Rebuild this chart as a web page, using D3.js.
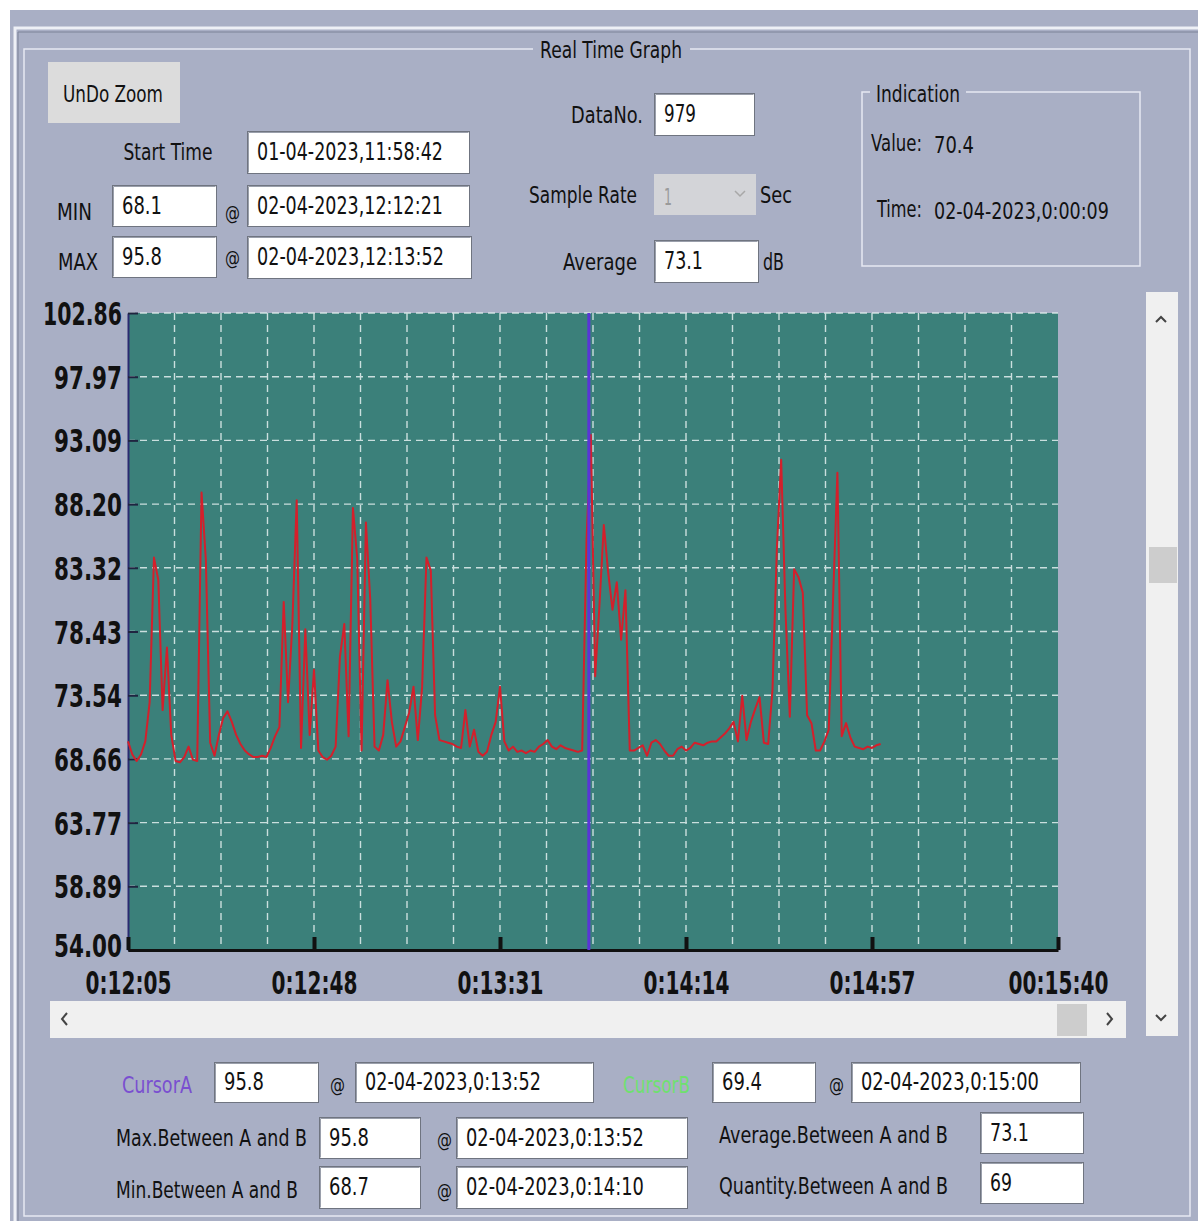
<!DOCTYPE html>
<html><head><meta charset="utf-8">
<script src="https://cdn.jsdelivr.net/npm/d3@7"></script>
<style>
html,body{margin:0;padding:0;background:#fff;}
svg{display:block;}
text{font-family:"DejaVu Sans","Liberation Sans",sans-serif;}
</style></head><body>
<svg id="c" width="1198" height="1221"></svg>
<script>
// ---------------- data ----------------
const startSeconds = 12*60 + 5;         // 0:12:05
const sampleRateSec = 1;
const values = [
 70.0,69.0,68.5,69.0,70.0,73.0,84.1,82.4,72.4,77.2,
 70.5,68.5,68.4,68.8,69.6,68.6,68.5,89.1,83.9,69.9,
 68.9,70.5,71.8,72.3,71.5,70.5,69.8,69.3,69.0,68.8,
 68.8,68.9,68.8,69.5,70.4,71.1,80.7,73.0,79.0,88.5,
 69.5,78.6,70.5,75.5,69.3,68.8,68.6,68.9,69.6,76.5,
 79.0,70.4,87.9,84.0,69.3,86.8,80.9,69.6,69.3,70.5,
 74.7,71.5,69.6,70.0,71.1,72.2,74.2,70.1,74.2,84.1,
 83.1,72.0,70.1,70.0,69.9,69.8,69.6,69.5,72.4,69.6,
 70.9,69.2,68.9,69.2,70.5,71.5,74.2,70.0,69.3,69.6,
 69.2,69.3,69.1,69.3,69.2,69.6,69.8,70.1,69.6,69.4,
 69.7,69.5,69.4,69.3,69.2,69.3,85.4,93.5,75.0,80.5,
 86.6,83.0,80.1,82.2,77.8,81.6,69.3,69.3,69.5,69.7,
 68.9,69.9,70.1,69.8,69.3,68.9,68.9,69.4,69.6,69.3,
 69.5,69.9,69.8,69.7,69.9,70.0,70.0,70.3,70.6,71.0,
 71.5,70.0,73.5,70.1,71.5,72.5,73.4,69.9,69.8,74.0,
 84.7,91.6,80.0,71.9,83.2,82.6,81.4,72.0,71.4,69.3,
 69.3,70.0,70.9,80.9,90.6,70.4,71.4,70.3,69.6,69.5,
 69.4,69.6,69.5,69.7,69.8
];
const yTickLabels = ["102.86","97.97","93.09","88.20","83.32","78.43","73.54","68.66","63.77","58.89","54.00"];
const xTickLabels = ["0:12:05","0:12:48","0:13:31","0:14:14","0:14:57","00:15:40"];
const xDomainSec = [0, 215];
const cursorA = {label:"CursorA", value:"95.8", time:"02-04-2023,0:13:52", offset:107};
const cursorB = {label:"CursorB", value:"69.4", time:"02-04-2023,0:15:00", offset:175};
const header = {start:"01-04-2023,11:58:42", min:"68.1", minTime:"02-04-2023,12:12:21",
  max:"95.8", maxTime:"02-04-2023,12:13:52", dataNo:"979", rate:"1", avg:"73.1",
  indValue:"70.4", indTime:"02-04-2023,0:00:09"};
const stats = {maxAB:"95.8", maxABTime:"02-04-2023,0:13:52", minAB:"68.7", minABTime:"02-04-2023,0:14:10",
  avgAB:"73.1", qtyAB:"69"};

// ---------------- helpers ----------------
const svg = d3.select("#c");
const PANEL = "#a9afc5";
// text squeezed horizontally to a target width (narrow UI font look)
function label(x,y,t,opt={}){
  const size = opt.size||23;
  const g = svg.append("g");
  const el = g.append("text").attr("x",0).attr("y",0).attr("font-size",size)
    .attr("font-weight",opt.weight||"normal")
    .attr("text-anchor",opt.anchor||"start").attr("fill",opt.fill||"#111").text(t);
  const nat = el.node().getComputedTextLength();
  const sx = opt.w ? opt.w/nat : 0.8;
  g.attr("transform",`translate(${x},${y}) scale(${sx},1)`);
  return g;
}
function box(x,y,w,h,t,opt={}){
  svg.append("rect").attr("x",x+0.5).attr("y",y+0.5).attr("width",w).attr("height",h)
    .attr("fill",opt.fill||"#fff").attr("stroke","#6f7480").attr("stroke-width",1);
  svg.append("path").attr("d",`M${x+1.5},${y+h-0.5} V${y+1.5} H${x+w-0.5}`).attr("fill","none").attr("stroke","#9a9fab");
  if(t!==undefined) label(x+10,y+h/2+8,t,{fill:opt.color||"#111",size:24,w:opt.w});
}

// ---------------- frame ----------------
svg.append("rect").attr("x",10).attr("y",10).attr("width",1188).attr("height",1211).attr("fill",PANEL);
svg.append("path").attr("d","M15,1221 V28 H1198").attr("fill","none").attr("stroke","#eef0f6").attr("stroke-width",3);
svg.append("path").attr("d","M18,1221 V32 H1198").attr("fill","none").attr("stroke","#7d8398").attr("stroke-width",1);
svg.append("path").attr("d","M533,49 H24 V1216 H1190 V49 H690").attr("fill","none").attr("stroke","#e6e9f2").attr("stroke-width",1.5);
label(611,58,"Real Time Graph",{anchor:"middle",w:142});

// UnDo Zoom button
svg.append("rect").attr("x",48).attr("y",62).attr("width",132).attr("height",61).attr("fill","#dcdcdc");
label(113,102,"UnDo Zoom",{anchor:"middle",w:100});

label(168,160,"Start Time",{anchor:"middle",w:89});
box(247,131,222,42,header.start,{w:186});
label(57,220,"MIN",{w:35});
box(112,185,104,41,header.min,{w:40});
label(225,220,"@",{size:20,w:15});
box(247,185,222,41,header.minTime,{w:186});
label(58,270,"MAX",{w:40});
box(112,236,104,41,header.max,{w:40});
label(225,265,"@",{size:20,w:15});
box(247,236,224,42,header.maxTime,{w:187});

label(643,123,"DataNo.",{anchor:"end",w:72});
box(654,93,100,42,header.dataNo,{w:32});
label(637,203,"Sample Rate",{anchor:"end",w:108});
svg.append("rect").attr("x",654).attr("y",174).attr("width",102).attr("height",41).attr("fill","#d3d4d8");
label(664,205,header.rate,{fill:"#9a9a9a",w:8});
svg.append("path").attr("d","M735,191 l5,5 l5,-5").attr("fill","none").attr("stroke","#a8a8a8").attr("stroke-width",1.5);
label(760,203,"Sec",{w:32});
label(637,270,"Average",{anchor:"end",w:74});
box(654,240,104,42,header.avg,{w:39});
label(763,270,"dB",{w:21});

// Indication group
svg.append("path").attr("d","M870,92 H862 V266 H1140 V92 H966").attr("fill","none").attr("stroke","#e6e9f2").attr("stroke-width",1.5);
label(876,102,"Indication",{w:84});
label(871,151,"Value:",{w:51});
label(934,153,header.indValue,{w:40});
label(877,217,"Time:",{w:45});
label(934,219,header.indTime,{w:175});

// ---------------- chart ----------------
const plot = {x0:128, x1:1058, y0:313, y1:950};
const x = d3.scaleLinear().domain(xDomainSec).range([plot.x0, plot.x1]);
const yMin = +yTickLabels[yTickLabels.length-1], yMax = +yTickLabels[0];
const y = d3.scaleLinear().domain([yMin, yMax]).range([plot.y1, plot.y0]);

svg.append("rect").attr("x",plot.x0).attr("y",plot.y0).attr("width",plot.x1-plot.x0).attr("height",plot.y1-plot.y0).attr("fill","#3b807a");

const grid = svg.append("g").attr("stroke","#e4f0f0").attr("stroke-width",1.4).attr("stroke-dasharray","7,5").attr("opacity",0.85);
const nv = 20;
for(let i=1;i<nv;i++){
  const gx = x(xDomainSec[0] + (xDomainSec[1]-xDomainSec[0])*i/nv);
  grid.append("line").attr("x1",gx).attr("x2",gx).attr("y1",plot.y0).attr("y2",plot.y1);
}
yTickLabels.slice(0,-1).forEach(t=>{
  grid.append("line").attr("x1",plot.x0).attr("x2",plot.x1).attr("y1",y(+t)).attr("y2",y(+t));
});

const tickSize = 32;
function squeeze(sel, widthFn){
  sel.each(function(d,i){
    const el = d3.select(this);
    const nat = this.getComputedTextLength();
    const sx = widthFn(i)/nat;
    const tx = +el.attr("x")||0;
    el.attr("transform",`translate(${tx*(1-sx)},0) scale(${sx},1)`);
  });
}
// y axis
const yAxis = d3.axisLeft(y).tickValues(yTickLabels.map(Number)).tickFormat((d,i)=>yTickLabels[i]).tickSizeInner(-10).tickSizeOuter(0).tickPadding(6);
const yg = svg.append("g").attr("transform",`translate(${plot.x0},0)`).call(yAxis);
yg.select(".domain").attr("stroke","#2a2a70").attr("stroke-width",2);
yg.selectAll(".tick line").attr("stroke","#1f2440").attr("stroke-width",2);
yg.selectAll(".tick text").attr("font-size",tickSize).attr("font-weight","bold").attr("fill","#111")
  .attr("font-family","DejaVu Sans, sans-serif").attr("dy",d=>d===yMin?"0.2em":"0.36em");
squeeze(yg.selectAll(".tick text"), i=>yTickLabels[i].length===6?79:68);

// x axis
const xTickVals = xTickLabels.map((_,i)=> xDomainSec[0] + (xDomainSec[1]-xDomainSec[0])*i/(xTickLabels.length-1));
const xAxis = d3.axisBottom(x).tickValues(xTickVals).tickFormat((d,i)=>xTickLabels[i]).tickSizeInner(-13).tickSizeOuter(0).tickPadding(21);
const xg = svg.append("g").attr("transform",`translate(0,${plot.y1})`).call(xAxis);
xg.select(".domain").attr("stroke","#111").attr("stroke-width",3);
xg.selectAll(".tick line").attr("stroke","#111").attr("stroke-width",4);
xg.selectAll(".tick text").attr("font-size",tickSize).attr("font-weight","bold").attr("fill","#111")
  .attr("font-family","DejaVu Sans, sans-serif");
squeeze(xg.selectAll(".tick text"), i=>xTickLabels[i].length===8?100:86);

// data line
const line = d3.line().x((d,i)=>x(i*sampleRateSec)).y(d=>y(d));
svg.append("path").datum(values).attr("d",line).attr("fill","none").attr("stroke","#d41f2b").attr("stroke-width",2).attr("stroke-linejoin","round");

// cursor A
svg.append("line").attr("x1",x(cursorA.offset)-2).attr("x2",x(cursorA.offset)-2).attr("y1",plot.y0).attr("y2",plot.y1)
  .attr("stroke","#5a34d8").attr("stroke-width",3);

// horizontal scrollbar
svg.append("rect").attr("x",50).attr("y",1001).attr("width",1076).attr("height",37).attr("fill","#f0f0f0");
svg.append("rect").attr("x",1057).attr("y",1004).attr("width",30).attr("height",32).attr("fill","#cdcdcd");
svg.append("path").attr("d","M67,1013 l-5,6 l5,6").attr("fill","none").attr("stroke","#444").attr("stroke-width",2);
svg.append("path").attr("d","M1107,1013 l5,6 l-5,6").attr("fill","none").attr("stroke","#444").attr("stroke-width",2);
// vertical scrollbar
svg.append("rect").attr("x",1146).attr("y",292).attr("width",32).attr("height",744).attr("fill","#f0f0f0");
svg.append("rect").attr("x",1149).attr("y",547).attr("width",28).attr("height",36).attr("fill","#cdcdcd");
svg.append("path").attr("d","M1156,322 l5,-5 l5,5").attr("fill","none").attr("stroke","#444").attr("stroke-width",2);
svg.append("path").attr("d","M1156,1015 l5,5 l5,-5").attr("fill","none").attr("stroke","#444").attr("stroke-width",2);

// ---------------- bottom panel ----------------
label(122,1093,cursorA.label,{fill:"#7a4fd0",w:70});
box(214,1062,104,40,cursorA.value,{w:40});
label(330,1092,"@",{size:20,w:15});
box(355,1062,238,40,cursorA.time,{w:176});
label(623,1093,cursorB.label,{fill:"#6fe06f",w:67});
box(712,1062,103,40,cursorB.value,{w:40});
label(829,1092,"@",{size:20,w:15});
box(851,1062,229,40,cursorB.time,{w:178});

label(116,1146,"Max.Between A and B",{w:191});
box(319,1117,101,41,stats.maxAB,{w:40});
label(437,1147,"@",{size:20,w:15});
box(456,1117,231,41,stats.maxABTime,{w:178});
label(116,1198,"Min.Between A and B",{w:182});
box(319,1166,101,42,stats.minAB,{w:40});
label(437,1198,"@",{size:20,w:15});
box(456,1166,231,42,stats.minABTime,{w:178});

label(719,1143,"Average.Between A and B",{w:229});
box(980,1112,103,41,stats.avgAB,{w:39});
label(719,1194,"Quantity.Between A and B",{w:229});
box(980,1162,103,41,stats.qtyAB,{w:22});
</script>
</body></html>
